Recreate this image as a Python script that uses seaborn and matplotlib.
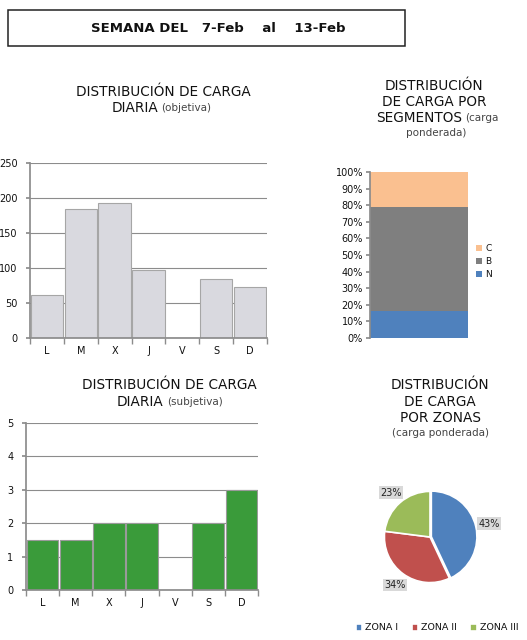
import numpy as np
import pandas as pd
import matplotlib
matplotlib.use("Agg")
import matplotlib.pyplot as plt
from matplotlib.patches import Rectangle
import seaborn as sns

# ---------------------------------------------------------------------------
# data
# ---------------------------------------------------------------------------
dias = ["L", "M", "X", "J", "V", "S", "D"]
carga_objetiva = [62, 185, 193, 97, 0, 84, 73]
carga_subjetiva = [1.5, 1.5, 2, 2, 0, 2, 3]

segmentos = ["C", "B", "N"]
seg_pct = {"N": 16, "B": 63, "C": 21}

zonas = ["ZONA I", "ZONA II", "ZONA III"]
zona_pct = [43, 34, 23]

sns.set_theme(style="white")
plt.rcParams["font.family"] = ["DejaVu Sans"]
plt.rcParams["text.color"] = "#111111"

W, H = 527, 640
fig = plt.figure(figsize=(W / 100, H / 100), dpi=100)
fig.patch.set_facecolor("white")


def px(x0, y0, x1, y1):
    return [x0 / W, 1 - y1 / H, (x1 - x0) / W, (y1 - y0) / H]


def fx(x):
    return x / W


def fy(y):
    return 1 - y / H


grid_col = "#8c8c8c"
title_fs = 9.8
small_fs = 7.5
small_col = "#444444"

# header box
fig.patches.append(Rectangle((fx(8), fy(46)), (405 - 8) / W, (46 - 10) / H,
                             transform=fig.transFigure, fill=False,
                             edgecolor="#222222", linewidth=1.1))
fig.text(fx(218), fy(28), "SEMANA DEL   7-Feb    al    13-Feb",
         ha="center", va="center", fontsize=9.5, fontweight="bold")


def style_days(ax, ymax, step):
    ax.set_xlim(-0.5, 6.5)
    ax.set_ylim(0, ymax)
    ax.set_yticks(np.arange(0, ymax + step / 2, step))
    ax.yaxis.grid(True, color=grid_col, linewidth=0.8)
    ax.set_axisbelow(True)
    for s in ["top", "right"]:
        ax.spines[s].set_visible(False)
    ax.spines["left"].set_color(grid_col)
    ax.spines["bottom"].set_color(grid_col)
    ax.set_xticks(np.arange(-0.5, 7, 1), minor=True)
    ax.tick_params(axis="x", which="major", length=0, pad=6, labelsize=7, labelcolor="#111111")
    ax.tick_params(axis="x", which="minor", length=4, color=grid_col, direction="out")
    ax.tick_params(axis="y", length=3, color=grid_col, direction="out", labelsize=7,
                   pad=6, labelcolor="#111111")
    ax.yaxis.set_ticks_position("left")
    ax.xaxis.set_ticks_position("bottom")
    ax.set_xlabel("")
    ax.set_ylabel("")


# ---------------------------------------------------------------------------
# top left: carga objetiva
# ---------------------------------------------------------------------------
ax1 = fig.add_axes(px(30, 163, 267, 338))
df_obj = pd.DataFrame({"dia": dias, "carga": carga_objetiva})
sns.barplot(data=df_obj, x="dia", y="carga", color="#d9d9df", saturation=1,
            width=0.96, edgecolor="#a6a6a6", linewidth=0.8, ax=ax1)
style_days(ax1, 250, 50)

fig.text(fx(163), fy(92), "DISTRIBUCIÓN DE CARGA", ha="center", va="center", fontsize=title_fs)
fig.text(fx(158), fy(108), "DIARIA", ha="right", va="center", fontsize=title_fs)
fig.text(fx(161), fy(108), "(objetiva)", ha="left", va="center", fontsize=small_fs, color=small_col)

# ---------------------------------------------------------------------------
# top right: segmentos (stacked 100%)
# ---------------------------------------------------------------------------
ax2 = fig.add_axes(px(370, 172, 468, 338))
cum = {"C": seg_pct["N"] + seg_pct["B"] + seg_pct["C"],
       "B": seg_pct["N"] + seg_pct["B"],
       "N": seg_pct["N"]}
seg_col = {"C": "#fac090", "B": "#7f7f7f", "N": "#4f81bd"}
for s in segmentos:
    sns.barplot(x=[0], y=[cum[s]], color=seg_col[s], saturation=1, width=1.0,
                linewidth=0, ax=ax2, label=s)
ax2.set_xlim(-0.5, 0.5)
ax2.set_ylim(0, 100)
ax2.set_yticks(np.arange(0, 101, 10))
ax2.set_yticklabels([f"{v}%" for v in range(0, 101, 10)])
ax2.set_xticks([])
for s in ["top", "right", "bottom"]:
    ax2.spines[s].set_visible(False)
ax2.spines["left"].set_color(grid_col)
ax2.tick_params(axis="y", length=3, color=grid_col, direction="out", labelsize=7,
                pad=2, labelcolor="#111111")
ax2.yaxis.set_ticks_position("left")
ax2.set_xlabel("")
ax2.set_ylabel("")
ax2.legend(loc="center left", bbox_to_anchor=(1.04, 0.46), frameon=False,
           fontsize=6.5, handlelength=0.7, handleheight=0.7, handletextpad=0.4,
           labelspacing=0.45, borderaxespad=0)

fig.text(fx(434), fy(86), "DISTRIBUCIÓN", ha="center", va="center", fontsize=title_fs)
fig.text(fx(434), fy(102), "DE CARGA POR", ha="center", va="center", fontsize=title_fs)
fig.text(fx(462), fy(118), "SEGMENTOS", ha="right", va="center", fontsize=title_fs)
fig.text(fx(465), fy(118), "(carga", ha="left", va="center", fontsize=small_fs, color=small_col)
fig.text(fx(436), fy(133), "ponderada)", ha="center", va="center", fontsize=small_fs, color=small_col)

# ---------------------------------------------------------------------------
# bottom left: carga subjetiva
# ---------------------------------------------------------------------------
ax3 = fig.add_axes(px(26, 423, 258, 590))
df_sub = pd.DataFrame({"dia": dias, "carga": carga_subjetiva})
sns.barplot(data=df_sub, x="dia", y="carga", color="#3a9b3a", saturation=1,
            width=0.96, edgecolor="#9a9a9a", linewidth=0.8, ax=ax3)
style_days(ax3, 5, 1)

fig.text(fx(169), fy(385), "DISTRIBUCIÓN DE CARGA", ha="center", va="center", fontsize=title_fs)
fig.text(fx(163), fy(402), "DIARIA", ha="right", va="center", fontsize=title_fs)
fig.text(fx(167), fy(402), "(subjetiva)", ha="left", va="center", fontsize=small_fs, color=small_col)

# ---------------------------------------------------------------------------
# bottom right: zonas (pie)
# ---------------------------------------------------------------------------
ax4 = fig.add_axes(px(373, 480, 487, 594))
zona_col = ["#4f81bd", "#c0504d", "#9bbb59"]
wedges, _, autotexts = ax4.pie(
    zona_pct, colors=zona_col, startangle=90, counterclock=False,
    explode=[0.03, 0.0, 0.0], autopct="%d%%", pctdistance=1.3,
    wedgeprops=dict(edgecolor="white", linewidth=1.2),
    textprops=dict(fontsize=7, color="#222222"))
for t in autotexts:
    t.set_bbox(dict(boxstyle="square,pad=0.15", facecolor="#d9d9d9", edgecolor="none"))
ax4.set_aspect("equal")
fig.legend(wedges, zonas, loc="center", bbox_to_anchor=(fx(437), fy(628)), ncol=3,
           frameon=False, fontsize=6.8, handlelength=0.7, handleheight=0.7,
           handletextpad=0.3, columnspacing=1.4)

fig.text(fx(440), fy(385), "DISTRIBUCIÓN", ha="center", va="center", fontsize=title_fs)
fig.text(fx(440), fy(402), "DE CARGA", ha="center", va="center", fontsize=title_fs)
fig.text(fx(440), fy(418), "POR ZONAS", ha="center", va="center", fontsize=title_fs)
fig.text(fx(440), fy(433), "(carga ponderada)", ha="center", va="center", fontsize=small_fs, color=small_col)

fig.savefig("out.png", dpi=100, facecolor="white")
